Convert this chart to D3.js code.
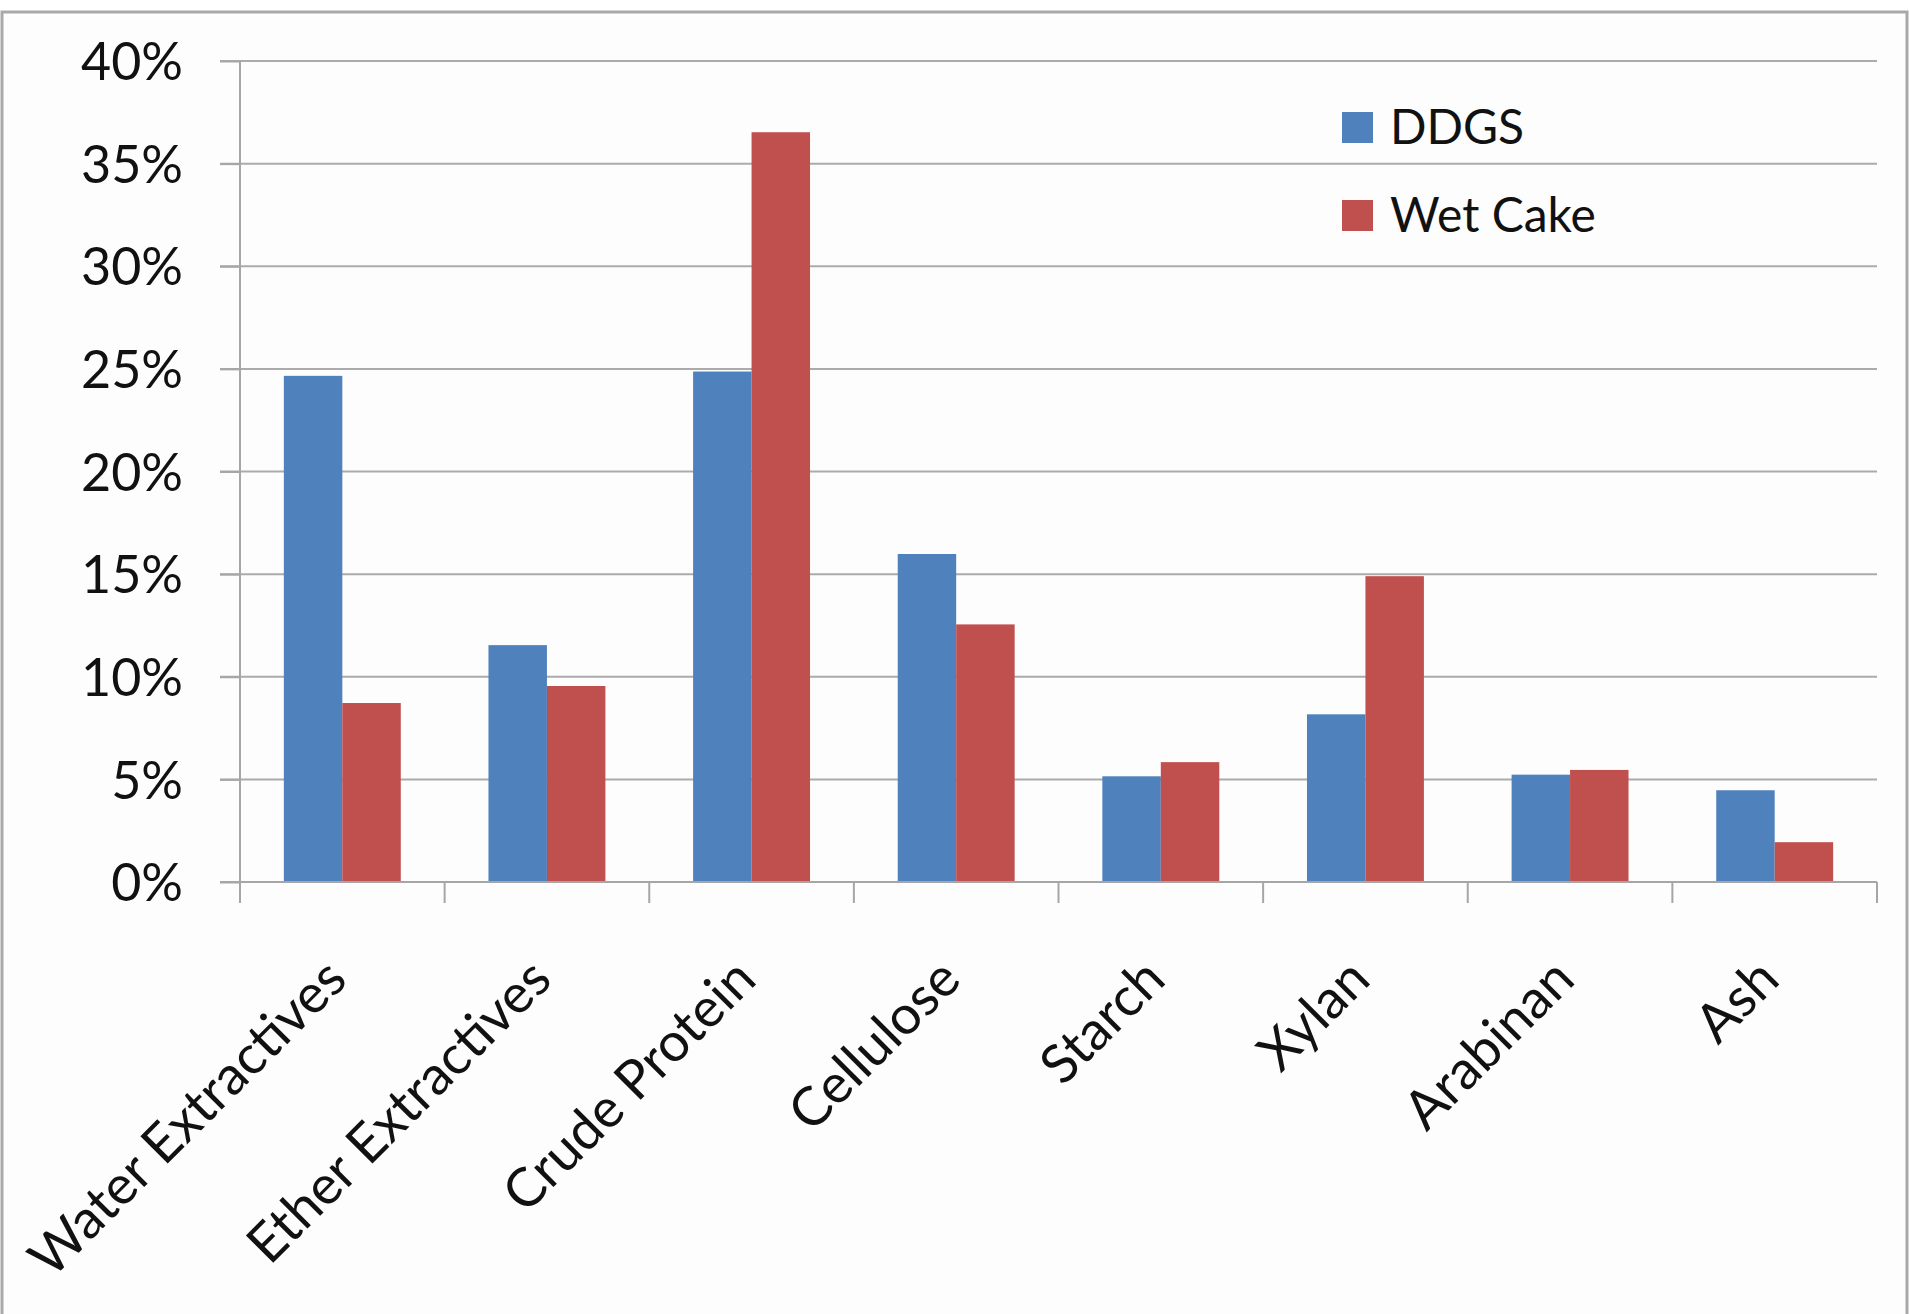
<!DOCTYPE html>
<html lang="en">
<head>
  <meta charset="UTF-8">
  <title>DDGS vs Wet Cake</title>
  <style>
  body { margin: 0; background: #fff; }
  text { font-family: Lato, "Open Sans", sans-serif; fill: #111; }
  .grid line { stroke: #ababab; stroke-width: 2px; }
  .axis path, .axis line { stroke: #a6a6a6; stroke-width: 2px; }
  </style>
</head>
<body>
  <script src="https://d3js.org/d3.v7.min.js"></script>
  <script>
const categories = ["Water Extractives", "Ether Extractives", "Crude Protein", "Cellulose", "Starch", "Xylan", "Arabinan", "Ash"]
const seriesNames = ["DDGS", "Wet Cake"]
const ddgs = [0.2466, 0.1154, 0.2487, 0.1598, 0.0515, 0.0817, 0.0523, 0.0447]
const wetCake = [0.0872, 0.0955, 0.3653, 0.1255, 0.0584, 0.1490, 0.0546, 0.0194]
const yTicks = [0, 0.05, 0.10, 0.15, 0.20, 0.25, 0.30, 0.35, 0.40]
const colors = ["#4F81BD", "#C0504D"]

const width = 1909, height = 1314
const margin = {top: 61, right: 32, bottom: 432, left: 240}

const rows = categories.map((c, i) => ({cat: c, values: [ddgs[i], wetCake[i]]}))

const x0 = d3.scaleBand()
  .domain(categories)
  .range([margin.left, width - margin.right])
  .padding(0)

const x1 = d3.scaleBand()
  .domain(seriesNames)
  .range([0, x0.bandwidth()])
  .paddingInner(0)
  .paddingOuter(0.75)

const y = d3.scaleLinear()
  .domain([0, 0.40])
  .range([height - margin.bottom, margin.top])

const svg = d3.select("body").append("svg")
  .attr("width", width)
  .attr("height", height)

// chart area frame
svg.append("rect")
  .attr("x", 2).attr("y", 12)
  .attr("width", width - 4).attr("height", height + 20)
  .attr("fill", "#fdfdfd")
  .attr("stroke", "#a9a9a9")
  .attr("stroke-width", 3)

// gridlines
svg.append("g")
  .attr("class", "grid")
  .selectAll("line")
  .data(yTicks.slice(1))
  .join("line")
    .attr("x1", margin.left - 20)
    .attr("x2", width - margin.right)
    .attr("y1", d => y(d))
    .attr("y2", d => y(d))

// y axis
const yAxis = svg.append("g")
  .attr("class", "axis")
  .attr("transform", `translate(${margin.left},0)`)
  .call(d3.axisLeft(y).tickValues(yTicks).tickSize(20).tickSizeOuter(0).tickFormat(d3.format(".0%")))
yAxis.select(".domain").remove()
yAxis.append("line")
  .attr("x1", 0).attr("x2", 0)
  .attr("y1", y(0.40)).attr("y2", y(0) + 21)
yAxis.selectAll("text")
  .attr("x", -57)
  .attr("dy", "0.36em")
  .style("font-size", "52px")
  .style("fill", "#111")

// bars
svg.append("g")
  .selectAll("g")
  .data(rows)
  .join("g")
    .attr("transform", d => `translate(${x0(d.cat)},0)`)
  .selectAll("rect")
  .data(d => d.values.map((v, j) => ({key: seriesNames[j], value: v, j})))
  .join("rect")
    .attr("x", d => x1(d.key))
    .attr("width", x1.bandwidth())
    .attr("y", d => y(d.value))
    .attr("height", d => y(0) - y(d.value))
    .attr("fill", d => colors[d.j])

// x axis
const xAxis = svg.append("g")
  .attr("class", "axis")
  .attr("transform", `translate(0,${y(0)})`)
xAxis.append("line")
  .attr("x1", margin.left - 20).attr("x2", width - margin.right)
  .attr("y1", 0).attr("y2", 0)
xAxis.selectAll(".tick")
  .data(categories.map(c => x0(c)).concat([width - margin.right]))
  .join("line")
    .attr("x1", d => d).attr("x2", d => d)
    .attr("y1", 0).attr("y2", 21)
svg.append("g")
  .selectAll("text")
  .data(categories)
  .join("text")
    .attr("transform", d => `translate(${x0(d) + x0.bandwidth() / 2 + 7},${y(0) + 100}) rotate(-45)`)
    .attr("text-anchor", "end")
    .style("font-size", "54px")
    .text(d => d)

// legend
const legend = svg.append("g")
  .selectAll("g")
  .data(seriesNames)
  .join("g")
    .attr("transform", (d, i) => `translate(1342,${112 + i * 88})`)
legend.append("rect")
  .attr("width", 31).attr("height", 31)
  .attr("fill", (d, i) => colors[i])
legend.append("text")
  .attr("x", 48).attr("y", 32)
  .style("font-size", "48px")
  .text(d => d)
  </script>
</body>
</html>
